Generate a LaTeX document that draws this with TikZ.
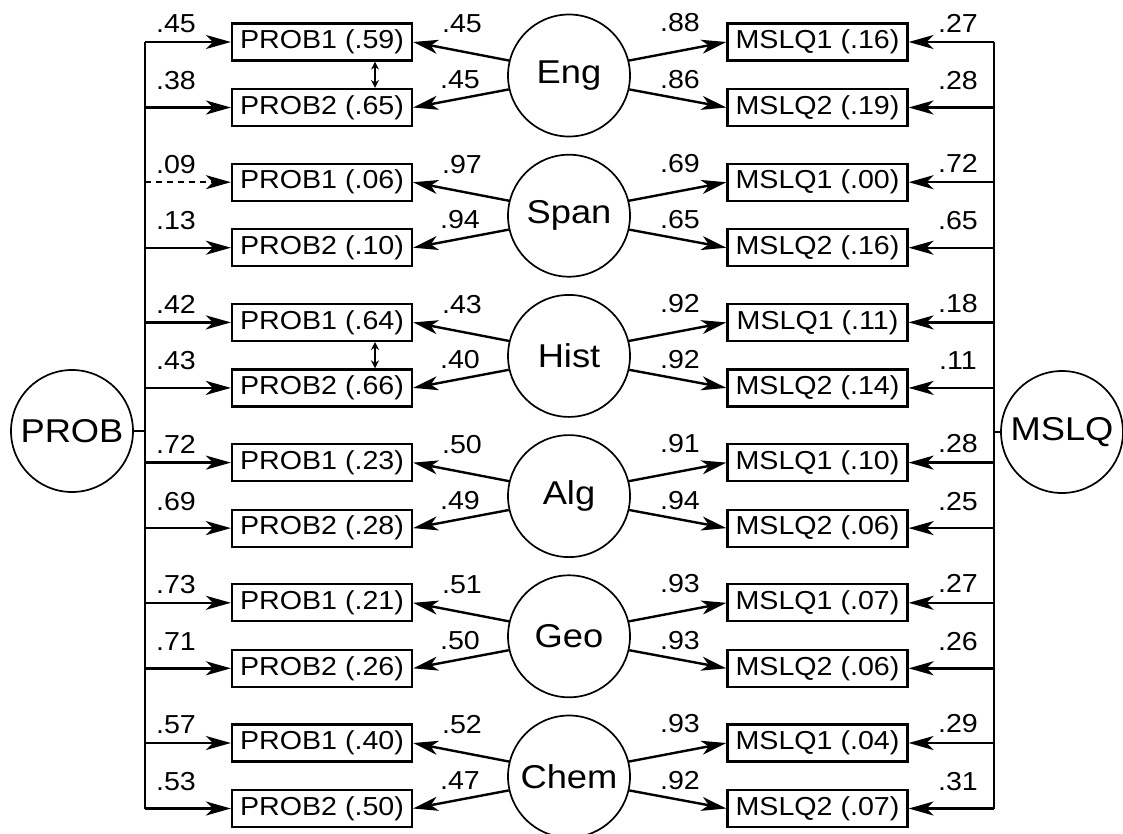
\documentclass[tikz,border=0pt]{standalone}
\usepackage{fontspec}
\setmainfont{Liberation Sans}[FakeStretch=1.1]
\usetikzlibrary{arrows.meta}

\begin{document}
\begin{tikzpicture}[x=1pt, y=-1pt, >={Stealth[length=25pt,width=14pt,inset=7pt]},
  obs/.style={draw, line width=2.2pt, minimum width=180pt, minimum height=37pt,
              inner sep=0pt, font=\fontsize{26}{30}\selectfont},
  lat/.style={draw, circle, line width=1.7pt, minimum size=122pt, inner sep=0pt,
              font=\fontsize{33}{36}\selectfont},
  effect/.style={->, line width=2.4pt},
  strong/.style={},
  weak/.style={dash pattern=on 6pt off 5pt},
  coef/.style={inner sep=0pt, font=\fontsize{26}{30}\selectfont},
  corr/.style={{Stealth[length=8pt,width=8pt]}-{Stealth[length=8pt,width=8pt]}, line width=1.6pt}]
  \useasboundingbox (0,0) rectangle (1123,833);

  % Spines of the two method factors
  \coordinate (ltop) at (145,42);
  \coordinate (rtop) at (994,43);

  % Trait groups: boxes, trait circle, loadings
  \foreach \lname/\pa/\pb/\qa/\qb/\ga/\gb/\ha/\hb/\ka/\kb/\wa/\wb/\st [count=\i from 0] in {
      Eng/.59/.65/.16/.19/.45/.38/.45/.45/.88/.86/.27/.28/strong,
      Span/.06/.10/.00/.16/.09/.13/.97/.94/.69/.65/.72/.65/weak,
      Hist/.64/.66/.11/.14/.42/.43/.43/.40/.92/.92/.18/.11/strong,
      Alg/.23/.28/.10/.06/.72/.69/.50/.49/.91/.94/.28/.25/strong,
      Geo/.21/.26/.07/.06/.73/.71/.51/.50/.93/.93/.27/.26/strong,
      Chem/.40/.50/.04/.07/.57/.53/.52/.47/.93/.92/.29/.31/strong} {
    \pgfmathsetmacro{\ya}{42+140.2*\i}
    \pgfmathsetmacro{\yb}{\ya+65.5}
    \node[obs] (p1-\i) at (322,\ya) {PROB1 (\pa)};
    \node[obs] (p2-\i) at (322,\yb) {PROB2 (\pb)};
    \node[obs] (m1-\i) at (817.5,\ya) {MSLQ1 (\qa)};
    \node[obs] (m2-\i) at (817.5,\yb) {MSLQ2 (\qb)};
    \node[lat] (t-\i) at (569,\ya+33.5) {\lname};

    % method loadings
    \draw[effect, \st] (ltop |- p1-\i.west) -- (p1-\i.west);
    \draw[effect] (ltop |- p2-\i.west) -- (p2-\i.west);
    \draw[effect] (rtop |- m1-\i.east) -- (m1-\i.east);
    \draw[effect] (rtop |- m2-\i.east) -- (m2-\i.east);

    % trait loadings
    \draw[effect] (t-\i.166) -- (p1-\i.east);
    \draw[effect] (t-\i.193) -- (p2-\i.east);
    \draw[effect] (t-\i.14) -- (m1-\i.west);
    \draw[effect] (t-\i.-13) -- (m2-\i.west);

    % coefficients
    \node[coef] (cl1-\i) at (176,\ya-18) {\ga};
    \node[coef] (cl2-\i) at (176,\yb-27) {\gb};
    \node[coef] (ct1-\i) at (462,\ya-18) {\ha};
    \node[coef] (ct2-\i) at (460,\yb-28) {\hb};
    \node[coef] (cm1-\i) at (680,\ya-19) {\ka};
    \node[coef] (cm2-\i) at (680,\yb-28) {\kb};
    \node[coef] (cr1-\i) at (958,\ya-19) {\wa};
    \node[coef] (cr2-\i) at (958,\yb-27) {\wb};
  }

  % Method factors
  \node[lat] (PROB) at (72,431) {PROB};
  \node[lat] (MSLQ) at (1062,432) {MSLQ};
  \draw[line width=2.2pt] (ltop |- p1-0.west) -- (ltop |- p2-5.west);
  \draw[line width=2.2pt] (rtop |- m1-0.east) -- (rtop |- m2-5.east);
  \draw[line width=1.7pt] (PROB.east) -- (PROB.east -| ltop);
  \draw[line width=1.7pt] (MSLQ.west) -- (MSLQ.west -| rtop);

  % Correlated residuals
  \draw[corr] ([xshift=53pt]p1-0.south) -- ([xshift=53pt]p2-0.north);
  \draw[corr] ([xshift=53pt]p1-2.south) -- ([xshift=53pt]p2-2.north);
\end{tikzpicture}
\end{document}
